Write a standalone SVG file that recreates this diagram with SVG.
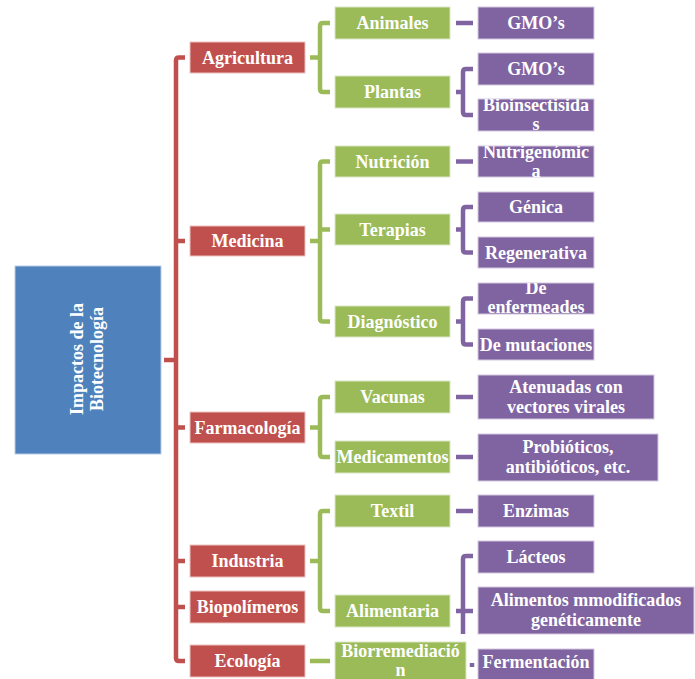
<svg xmlns="http://www.w3.org/2000/svg" width="695" height="679" viewBox="0 0 695 679">
<style>
.t{font-family:"Liberation Serif","Times New Roman",serif;font-weight:bold;font-size:18px;fill:#fff;text-anchor:middle}
.r{fill:#C0504D;stroke:#e9c3c2;stroke-width:1}
.g{fill:#9BBB59;stroke:#dbe7c6;stroke-width:1}
.p{fill:#8064A2;stroke:#d3c8e0;stroke-width:1}
.b{fill:#4F81BD;stroke:#b9cde6;stroke-width:1}
.cr{fill:none;stroke:#C0504D;stroke-width:4.5}
.cg{fill:none;stroke:#9BBB59;stroke-width:4.5}
.cp{fill:none;stroke:#8064A2;stroke-width:4.5}
</style>
<defs>
<clipPath id="c1"><rect x="478" y="99" width="116" height="32"/></clipPath>
<clipPath id="c2"><rect x="478" y="146" width="116" height="31"/></clipPath>
<clipPath id="c3"><rect x="478" y="283" width="116" height="31"/></clipPath>
<clipPath id="c4"><rect x="335" y="642" width="131" height="37"/></clipPath>
</defs>
<rect width="695" height="679" fill="#fff"/>
<g id="connectors">
<path class="cr" d="M185,57.5 H179 Q176,57.5 176,60.5 V658 Q176,661 179,661 H185 M164,360 H176 M176,241 H185 M176,427.5 H185 M176,561 H185 M176,607 H185"/>
<path class="cg" d="M330,23 H323 Q320,23 320,26 V89 Q320,92 323,92 H330 M310,57.5 H320"/>
<path class="cg" d="M330,161.5 H323 Q320,161.5 320,164.5 V318.5 Q320,321.5 323,321.5 H330 M310,241 H320 M320,229.5 H330"/>
<path class="cg" d="M330,397 H323 Q320,397 320,400 V454 Q320,457 323,457 H330 M310,427.5 H320"/>
<path class="cg" d="M330,511 H323 Q320,511 320,514 V608 Q320,611 323,611 H330 M310,561 H320"/>
<path class="cg" d="M310,661 H330"/>
<path class="cp" d="M456,23 H473"/>
<path class="cp" d="M473,69 H466 Q463,69 463,72 V112 Q463,115 466,115 H473 M456,92 H463"/>
<path class="cp" d="M456,161.5 H473"/>
<path class="cp" d="M473,207 H466 Q463,207 463,210 V249.5 Q463,252.5 466,252.5 H473 M456,229.5 H463"/>
<path class="cp" d="M473,298.5 H466 Q463,298.5 463,301.5 V341.5 Q463,344.5 466,344.5 H473 M456,321.5 H463"/>
<path class="cp" d="M456,397 H473"/>
<path class="cp" d="M456,457 H473"/>
<path class="cp" d="M456,511 H473"/>
<path class="cp" d="M473,556 H466 Q463,556 463,559 V634 M456,611 H473"/>
<path class="cp" d="M472,663 V667" stroke-width="3"/>
</g>
<g id="root"><rect class="b" x="15" y="266" width="146" height="188"/>
<text class="t" transform="translate(83,359) rotate(-90)">Impactos de la</text>
<text class="t" transform="translate(103,359) rotate(-90)">Biotecnología</text></g>
<g id="agricultura"><rect class="r" x="190" y="42" width="115" height="31"/><text class="t" x="247.5" y="63.5">Agricultura</text></g>
<g id="medicina"><rect class="r" x="190" y="226" width="115" height="30"/><text class="t" x="247.5" y="247">Medicina</text></g>
<g id="farmacologia"><rect class="r" x="190" y="412" width="115" height="31"/><text class="t" x="247.5" y="433.5">Farmacología</text></g>
<g id="industria"><rect class="r" x="190" y="545" width="115" height="32"/><text class="t" x="247.5" y="567">Industria</text></g>
<g id="biopolimeros"><rect class="r" x="190" y="591" width="115" height="32"/><text class="t" x="247.5" y="613">Biopolímeros</text></g>
<g id="ecologia"><rect class="r" x="190" y="645" width="115" height="32"/><text class="t" x="247.5" y="667">Ecología</text></g>
<g id="animales"><rect class="g" x="335" y="7" width="115" height="32"/><text class="t" x="392.5" y="29">Animales</text></g>
<g id="plantas"><rect class="g" x="335" y="76" width="115" height="32"/><text class="t" x="392.5" y="98">Plantas</text></g>
<g id="nutricion"><rect class="g" x="335" y="146" width="115" height="31"/><text class="t" x="392.5" y="167.5">Nutrición</text></g>
<g id="terapias"><rect class="g" x="335" y="214" width="115" height="31"/><text class="t" x="392.5" y="235.5">Terapias</text></g>
<g id="diagnostico"><rect class="g" x="335" y="306" width="115" height="31"/><text class="t" x="392.5" y="327.5">Diagnóstico</text></g>
<g id="vacunas"><rect class="g" x="335" y="381" width="115" height="32"/><text class="t" x="392.5" y="403">Vacunas</text></g>
<g id="medicamentos"><rect class="g" x="335" y="441" width="115" height="32"/><text class="t" x="392.5" y="463">Medicamentos</text></g>
<g id="textil"><rect class="g" x="335" y="495" width="115" height="32"/><text class="t" x="392.5" y="517">Textil</text></g>
<g id="alimentaria"><rect class="g" x="335" y="595" width="115" height="32"/><text class="t" x="392.5" y="617">Alimentaria</text></g>
<g id="biorremediacion"><rect class="g" x="335" y="642" width="131" height="40"/><g clip-path="url(#c4)"><text class="t" x="400.5" y="657">Biorremediació</text><text class="t" x="400.5" y="676">n</text></g></g>
<g id="gmo1"><rect class="p" x="478" y="7" width="116" height="32"/><text class="t" x="536" y="29">GMO’s</text></g>
<g id="gmo2"><rect class="p" x="478" y="53" width="116" height="32"/><text class="t" x="536" y="75">GMO’s</text></g>
<g id="bioinsectisidas"><rect class="p" x="478" y="99" width="116" height="32"/><g clip-path="url(#c1)"><text class="t" x="536" y="111">Bioinsectisida</text><text class="t" x="536" y="130">s</text></g></g>
<g id="nutrigenomica"><rect class="p" x="478" y="146" width="116" height="31"/><g clip-path="url(#c2)"><text class="t" x="536" y="158">Nutrigenómic</text><text class="t" x="536" y="177">a</text></g></g>
<g id="genica"><rect class="p" x="478" y="192" width="116" height="30"/><text class="t" x="536" y="213">Génica</text></g>
<g id="regenerativa"><rect class="p" x="478" y="237" width="116" height="31"/><text class="t" x="536" y="258.5">Regenerativa</text></g>
<g id="enfermedades"><rect class="p" x="478" y="283" width="116" height="31"/><g clip-path="url(#c3)"><text class="t" x="536" y="294">De</text><text class="t" x="536" y="313">enfermeades</text></g></g>
<g id="mutaciones"><rect class="p" x="478" y="329" width="116" height="31"/><text class="t" x="536" y="350.5">De mutaciones</text></g>
<g id="atenuadas"><rect class="p" x="478" y="375" width="176" height="44"/><text class="t" x="566" y="393">Atenuadas con</text><text class="t" x="566" y="413">vectores virales</text></g>
<g id="probioticos"><rect class="p" x="478" y="434" width="180" height="47"/><text class="t" x="568" y="453">Probióticos,</text><text class="t" x="568" y="473">antibióticos, etc.</text></g>
<g id="enzimas"><rect class="p" x="478" y="495" width="116" height="32"/><text class="t" x="536" y="517">Enzimas</text></g>
<g id="lacteos"><rect class="p" x="478" y="541" width="116" height="32"/><text class="t" x="536" y="563">Lácteos</text></g>
<g id="alimentos"><rect class="p" x="478" y="587" width="216" height="47"/><text class="t" x="586" y="606">Alimentos mmodificados</text><text class="t" x="586" y="626">genéticamente</text></g>
<g id="fermentacion"><rect class="p" x="478" y="649" width="116" height="33"/><text class="t" x="536" y="668">Fermentación</text></g>
</svg>
